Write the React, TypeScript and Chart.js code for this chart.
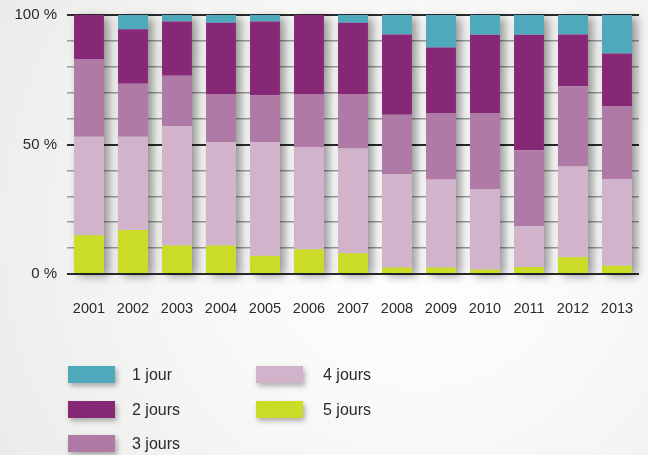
import React, { useEffect, useRef } from "react";
import { Chart, registerables } from "chart.js";

Chart.register(...registerables);

const years = ["2001", "2002", "2003", "2004", "2005", "2006", "2007", "2008", "2009", "2010", "2011", "2012", "2013"];
const jour1 = [0, 5.5, 2.5, 3, 2.5, 0, 3, 7.5, 12.5, 7.6, 7.6, 7.5, 14.9];
const jours2 = [17, 21, 21, 27.5, 28.5, 30.5, 27.5, 31, 25.5, 30.4, 44.6, 20, 20.4];
const jours3 = [30, 20.5, 19.5, 18.5, 18, 20.5, 21, 23, 25.5, 29.3, 29.3, 31, 28.1];
const jours4 = [38, 36, 46, 40, 44, 39.5, 40.5, 36, 34, 31, 15.8, 35, 33.4];
const jours5 = [15, 17, 11, 11, 7, 9.5, 8, 2.5, 2.5, 1.7, 2.7, 6.5, 3.2];
const seriesLabels = ["1 jour", "2 jours", "3 jours", "4 jours", "5 jours"];
const seriesColors = ["#4fa9bc", "#872877", "#b07aa6", "#d1b4cc", "#cbdc28"];

const FONT = "'Liberation Sans', Arial, Helvetica, sans-serif";

export default function App() {
  const ref = useRef<HTMLCanvasElement>(null);
  useEffect(() => {
    document.body.style.margin = "0";
    const canvas = ref.current!;
    const bgPlugin = {
      id: "bg",
      beforeDraw(chart: any) {
        const { ctx, width, height } = chart;
        ctx.save();
        const g = ctx.createRadialGradient(420, 230, 20, 420, 230, 520);
        g.addColorStop(0, "#ffffff");
        g.addColorStop(0.45, "#f7f7f6");
        g.addColorStop(1, "#e9e9e7");
        ctx.fillStyle = g;
        ctx.fillRect(0, 0, width, height);
        ctx.restore();
      },
    };
    const shadowPlugin = {
      id: "barShadow",
      beforeDatasetsDraw(chart: any) {
        const { ctx } = chart;
        const n = chart.data.datasets.length;
        const first = chart.getDatasetMeta(0).data;
        const last = chart.getDatasetMeta(n - 1).data;
        ctx.save();
        ctx.shadowColor = "rgba(0,0,0,0.4)";
        ctx.shadowBlur = 9;
        ctx.shadowOffsetX = 5;
        ctx.shadowOffsetY = 3;
        ctx.fillStyle = "#cccccc";
        first.forEach((el: any, i: number) => {
          const top = last[i].y;
          const bottom = el.base;
          const w = el.width;
          ctx.fillRect(el.x - w / 2, top, w, bottom - top);
        });
        ctx.restore();
      },
    };
    const legendPlugin = {
      id: "customLegend",
      afterDraw(chart: any) {
        const { ctx } = chart;
        const cols = [
          { boxX: 68, textX: 132, items: [0, 1, 2] },
          { boxX: 256, textX: 323, items: [3, 4] },
        ];
        const rowY = [374.5, 409.5, 443.5];
        ctx.save();
        ctx.font = `16px ${FONT}`;
        ctx.textBaseline = "middle";
        ctx.textAlign = "left";
        cols.forEach((c) => {
          c.items.forEach((idx, r) => {
            const y = rowY[r];
            ctx.save();
            ctx.shadowColor = "rgba(0,0,0,0.3)";
            ctx.shadowBlur = 5;
            ctx.shadowOffsetX = 2;
            ctx.shadowOffsetY = 3;
            ctx.fillStyle = seriesColors[idx];
            ctx.fillRect(c.boxX, y - 8.5, 47, 17);
            ctx.restore();
            ctx.fillStyle = "#2a2a2a";
            ctx.fillText(seriesLabels[idx], c.textX, y + 1);
          });
        });
        ctx.restore();
      },
    };
    const stackOrder = [4, 3, 2, 1, 0];
    const values = [jour1, jours2, jours3, jours4, jours5];
    const chart = new Chart(canvas, {
      type: "bar",
      data: {
        labels: years,
        datasets: stackOrder.map((i) => ({
          label: seriesLabels[i],
          data: values[i],
          backgroundColor: seriesColors[i],
          borderWidth: 0,
          barPercentage: 0.68,
          categoryPercentage: 1,
          clip: false as any,
        })),
      },
      options: {
        responsive: false,
        animation: false,
        events: [],
        layout: { padding: { top: 15, right: 9, bottom: 0, left: 0 } },
        plugins: { legend: { display: false }, tooltip: { enabled: false } },
        scales: {
          x: {
            stacked: true,
            grid: { display: false, drawTicks: false },
            border: { display: false },
            ticks: { color: "#2a2a2a", font: { family: FONT, size: 14.5 }, padding: 26, maxRotation: 0, autoSkip: false },
            afterFit(scale: any) {
              scale.height = 181;
              scale.paddingLeft = 0;
              scale.paddingRight = 0;
            },
          },
          y: {
            stacked: true,
            min: 0,
            max: 100,
            border: { display: false },
            grid: {
              drawTicks: false,
              color: (c: any) => (c.tick && c.tick.value % 50 === 0 ? "#2b2b2b" : "#9c9c9c"),
              lineWidth: (c: any) => (c.tick && c.tick.value % 50 === 0 ? 2 : 1.5),
            },
            ticks: {
              stepSize: 10,
              padding: 10,
              color: "#2a2a2a",
              font: { family: FONT, size: 15 },
              callback: (v: any) => (Number(v) % 50 === 0 ? `${v} %` : ""),
            },
            afterFit(scale: any) {
              scale.width = 67;
              scale.paddingTop = 0;
              scale.paddingBottom = 0;
            },
          },
        },
      },
      plugins: [bgPlugin, shadowPlugin, legendPlugin],
    });
    return () => chart.destroy();
  }, []);
  return (
    <div style={{ width: 648, height: 455 }}>
      <canvas ref={ref} width={648} height={455} />
    </div>
  );
}
